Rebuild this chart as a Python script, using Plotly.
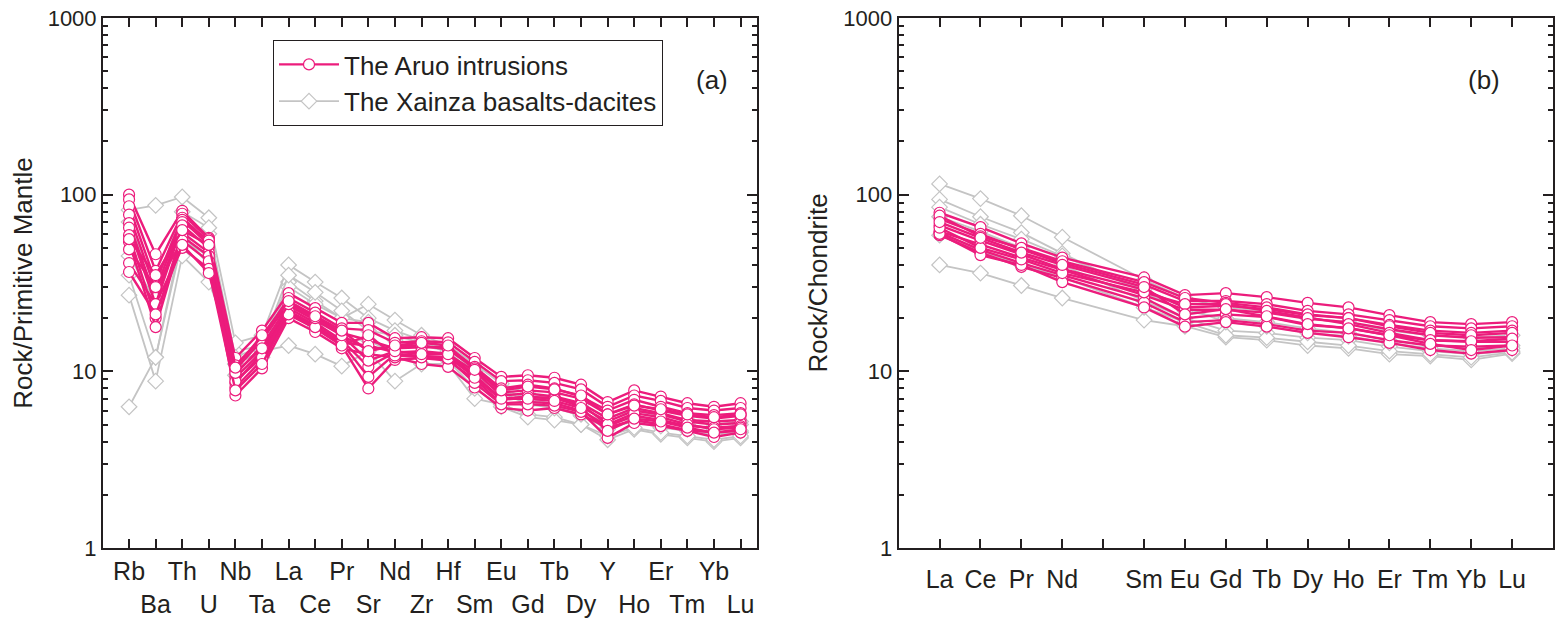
import plotly.graph_objects as go
from plotly.subplots import make_subplots

# ---------------- data ----------------
spider_elements = ["Rb", "Ba", "Th", "U", "Nb", "Ta", "La", "Ce", "Pr", "Sr", "Nd", "Zr",
                   "Hf", "Sm", "Eu", "Gd", "Tb", "Dy", "Y", "Ho", "Er", "Tm", "Yb", "Lu"]
ree_ticks = ["La", "Ce", "Pr", "Nd", "", "Sm", "Eu", "Gd", "Tb", "Dy", "Ho", "Er", "Tm", "Yb", "Lu"]
ree_elements = ["La", "Ce", "Pr", "Nd", "Sm", "Eu", "Gd", "Tb", "Dy", "Ho", "Er", "Tm", "Yb", "Lu"]

aruo_pm = [
    [100, 46, 81, 57, 11.9, 17, 27.7, 22.8, 18.8, 18.8, 15.4, 15.6, 15.4, 11.9, 9.3, 9.5, 9.2, 8.4, 6.7, 7.8, 7.2, 6.6, 6.3, 6.6],
    [94, 37, 78, 56, 10.8, 15.5, 26, 21.5, 17.5, 17.1, 14.5, 14.8, 14.6, 11.3, 8.8, 8.9, 8.6, 7.9, 6.3, 7.3, 6.8, 6.2, 6.0, 6.2],
    [86, 32, 74, 54, 10.2, 15, 24.4, 20.3, 16.5, 15, 13.5, 13.7, 13.7, 10.6, 8.0, 8.4, 8.0, 7.2, 6.0, 6.9, 6.3, 5.8, 5.65, 5.8],
    [77, 29, 72, 52, 9.6, 14, 23.5, 19.5, 16, 13.2, 13.8, 14, 13.3, 10.4, 7.6, 7.8, 7.6, 7.0, 5.7, 6.5, 6.0, 5.6, 5.4, 5.6],
    [69, 26, 70, 55, 9.2, 13, 22.8, 18.8, 15, 10.6, 12.8, 12.8, 12.5, 10, 7.3, 7.5, 7.2, 6.6, 5.4, 6.2, 5.8, 5.3, 5.2, 5.3],
    [65, 24, 67, 50, 8.6, 12.7, 21.7, 18, 14.5, 9.3, 12.5, 12.3, 12.0, 9.3, 6.9, 7.1, 7.1, 6.3, 5.2, 6.0, 5.7, 5.2, 5.0, 5.1],
    [59, 20, 61, 47, 8.1, 11.6, 21, 17.5, 14, 8.0, 11.6, 11.9, 11.5, 9.0, 6.6, 6.7, 6.6, 6.0, 4.9, 5.6, 5.3, 4.9, 4.8, 4.9],
    [54, 17.8, 58, 45, 7.3, 10.4, 20, 16.7, 13.5, 12.5, 12.0, 11, 10.6, 8.1, 6.2, 6.0, 6.2, 5.7, 4.8, 5.3, 5.0, 4.65, 4.5, 4.6],
    [49, 30, 55, 42, 8.8, 12, 22, 18.3, 14.5, 14, 12.8, 13, 12.6, 9.5, 7.0, 7.2, 7.0, 6.5, 5.0, 5.8, 5.5, 5.0, 4.7, 4.8],
    [41, 24, 50, 38, 7.8, 11, 21, 17.8, 14, 16, 12.3, 12, 11.8, 8.6, 6.5, 6.5, 6.4, 5.9, 4.2, 5.1, 4.9, 4.6, 4.25, 4.5],
    [36.5, 21, 52, 36, 9.8, 13.5, 24, 20, 16, 11.5, 13, 12.5, 12.5, 9.2, 7.0, 7.0, 6.8, 6.2, 4.6, 5.4, 5.2, 4.8, 4.5, 4.7],
    [56, 35, 63, 52, 10.5, 16, 25, 20.5, 17, 13, 14, 14.5, 14, 10.2, 7.8, 8.2, 7.9, 7.3, 5.7, 6.4, 6.1, 5.7, 5.5, 5.7],
]

xainza_pm = [
    [6.3, 12, 55, 45, 11, 13, 14, 12.5, 10.7, 13, 8.8, 11, 11, 7, 6.5, 5.7, 5.5, 5, 4.1, 4.7, 4.4, 4.2, 4.0, 4.2],
    [27, 8.8, 45, 32, 13, 14, 32, 25, 20, 24, 19.5, 16, 14, 11, 8.5, 7.5, 7, 6.5, 5.5, 6, 5.6, 5.3, 5.0, 5.2],
    [82, 87, 97, 74, 14.5, 16, 40, 32, 26, 20, 17, 15, 14, 10.5, 8, 7, 6.5, 6, 5, 5.5, 5.2, 5.0, 4.7, 5.0],
    [45, 25, 70, 60, 11, 13, 30, 24, 20, 19, 15, 14, 13, 9.5, 7.6, 6.5, 6.2, 5.6, 4.8, 5.2, 4.8, 4.6, 4.4, 4.5],
    [35, 12, 60, 40, 9.5, 12, 22, 18, 15, 15, 12.5, 12, 11.5, 8, 6.3, 5.5, 5.3, 5, 4.3, 4.8, 4.5, 4.3, 4.1, 4.3],
    [70, 30, 80, 65, 12, 14, 35, 28, 22, 17, 16, 14.5, 13.5, 10, 7.8, 6.8, 6.2, 5.7, 4.7, 5.3, 4.9, 4.7, 4.5, 4.6],
]

aruo_ree = [
    [79, 65.5, 53, 44, 34, 27, 27.7, 26.3, 24.4, 23, 20.8, 19, 18.5, 19],
    [73, 60, 49, 41, 31, 25, 25, 24, 22, 21, 19.5, 18, 17.5, 18],
    [67, 55, 46, 38, 29, 23, 23.5, 22.5, 20.8, 20, 18.3, 17, 16.5, 17],
    [62, 52, 44, 37.5, 27, 22.3, 22.3, 21.5, 19.8, 19, 17.3, 16, 15.5, 15.6],
    [61, 48.7, 41, 35, 26, 20, 21, 20.3, 18.3, 17.6, 16, 15, 14.7, 14.7],
    [59, 47, 39, 33.8, 24.5, 19, 19.5, 18.5, 17, 16.5, 15, 14, 13.8, 14],
    [60, 45.5, 40, 32, 23, 17.9, 19, 17.9, 16.5, 15.6, 14.5, 13.2, 12.6, 13.2],
    [76, 58, 50, 42, 32, 26, 24.4, 23, 21, 20, 18, 16.5, 16, 16.5],
    [65, 50, 43, 36, 28, 24, 24, 22, 20, 18.5, 16.5, 15, 14.8, 15.3],
    [70, 57, 47, 40, 30, 21, 22.5, 20.5, 18.5, 17.5, 16, 14.3, 13.2, 14],
]

xainza_ree = [
    [115, 95, 76, 57.5, 33, 26, 23, 22, 20, 19, 17, 16, 15.5, 16],
    [94, 75, 61, 46.5, 28, 22, 20, 19, 17.5, 16.5, 15, 14, 13.5, 14],
    [40, 36, 30.6, 26, 19.5, 18, 15.6, 15, 14, 13.5, 12.5, 12.2, 11.6, 12.6],
    [75, 62, 50, 40, 25, 20, 17, 16.5, 15.5, 15, 13.8, 13, 12.5, 13],
    [59, 48, 40, 34, 23, 19, 16, 15.5, 14.7, 14, 13, 12.5, 12.0, 12.8],
    [85, 68, 56, 45, 29, 23, 19, 18, 16.5, 15.8, 14.5, 13.5, 13, 13.5],
]

y_tickvals = [1, 10, 100, 1000]
y_minor = [m * d for d in (1, 10, 100) for m in range(2, 10)]

# ---------------- styles ----------------
PINK = "#EC1C7C"
GRAY = "#C4C4C4"
INK = "#231F20"
FONT = "Liberation Sans, Arial, sans-serif"

fig = make_subplots(rows=1, cols=2, horizontal_spacing=0.0975)

x_pm = list(range(len(spider_elements)))
x_ree = [ree_ticks.index(e) for e in ree_elements]

def add_group(xs, rows, col, color, symbol, name, lw, msize, show):
    for i, r in enumerate(rows):
        fig.add_trace(go.Scatter(
            x=xs, y=r, mode="lines+markers", name=name, legendgroup=name,
            showlegend=(show and i == 0),
            line=dict(color=color, width=lw),
            marker=dict(symbol=symbol, size=msize, color="white",
                        line=dict(color=color, width=1.2)),
        ), row=1, col=col)

add_group(x_pm, xainza_pm, 1, GRAY, "diamond", "The Xainza basalts-dacites", 1.8, 12, False)
add_group(x_pm, aruo_pm, 1, PINK, "circle", "The Aruo intrusions", 2.4, 11, True)
add_group(x_ree, xainza_ree, 2, GRAY, "diamond", "The Xainza basalts-dacites", 1.8, 12, True)
add_group(x_ree, aruo_ree, 2, PINK, "circle", "The Aruo intrusions", 2.4, 11, False)

axis_common = dict(showline=True, linecolor=INK, linewidth=2, mirror="ticks",
                   ticks="inside", tickcolor=INK, tickwidth=2, showgrid=False,
                   zeroline=False, automargin=False)

pm_text = [e if i % 2 == 0 else "<br>" + e for i, e in enumerate(spider_elements)]
XFONT = dict(family=FONT, size=25, color=INK)

fig.update_xaxes(**axis_common, range=[-0.98, 23.63], tickvals=x_pm, ticktext=pm_text,
                 ticklen=9, tickangle=0, tickfont=XFONT, row=1, col=1)
fig.update_xaxes(**axis_common, range=[-1, 15], tickvals=list(range(len(ree_ticks))),
                 ticktext=ree_ticks, ticklen=9, tickangle=0, tickfont=XFONT,
                 ticklabelstandoff=8, row=1, col=2)

for col, title in ((1, "Rock/Primitive Mantle"), (2, "Rock/Chondrite")):
    fig.update_yaxes(**axis_common, type="log", range=[0, 3], tickvals=y_tickvals,
                     ticktext=[str(v) for v in y_tickvals], ticklen=10,
                     tickfont=dict(family=FONT, size=22, color=INK),
                     minor=dict(ticks="inside", ticklen=5, tickwidth=2, tickcolor=INK,
                                tickvals=y_minor, showgrid=False),
                     title=dict(text=title, font=dict(family=FONT, size=26, color=INK),
                                standoff=8),
                     row=1, col=col)

PX_L, PX_R, PX_T, PX_B = 103, 1553, 18, 548

def px_to_paper(x, y):
    return (x - PX_L) / (PX_R - PX_L), (PX_B - y) / (PX_B - PX_T)

ax_a, ay_a = px_to_paper(712, 63)
ax_b, ay_b = px_to_paper(1502, 63)
lx, ly = px_to_paper(273, 40)

fig.update_layout(
    width=1565, height=619,
    margin=dict(l=PX_L, r=1565 - PX_R, t=PX_T, b=619 - PX_B),
    paper_bgcolor="white", plot_bgcolor="white",
    font=dict(family=FONT, size=22, color=INK),
    legend=dict(x=lx, y=ly, xanchor="left", yanchor="top",
                bordercolor=INK, borderwidth=1, bgcolor="white",
                font=dict(family=FONT, size=26, color=INK),
                itemwidth=60, tracegroupgap=0, traceorder="grouped"),
    annotations=[
        dict(text="(a)", x=ax_a, y=ay_a, xref="paper", yref="paper", showarrow=False,
             font=dict(family=FONT, size=26, color=INK)),
        dict(text="(b)", x=ax_b, y=ay_b, xref="paper", yref="paper", showarrow=False,
             font=dict(family=FONT, size=26, color=INK)),
    ],
)

fig.write_html("out.html")
